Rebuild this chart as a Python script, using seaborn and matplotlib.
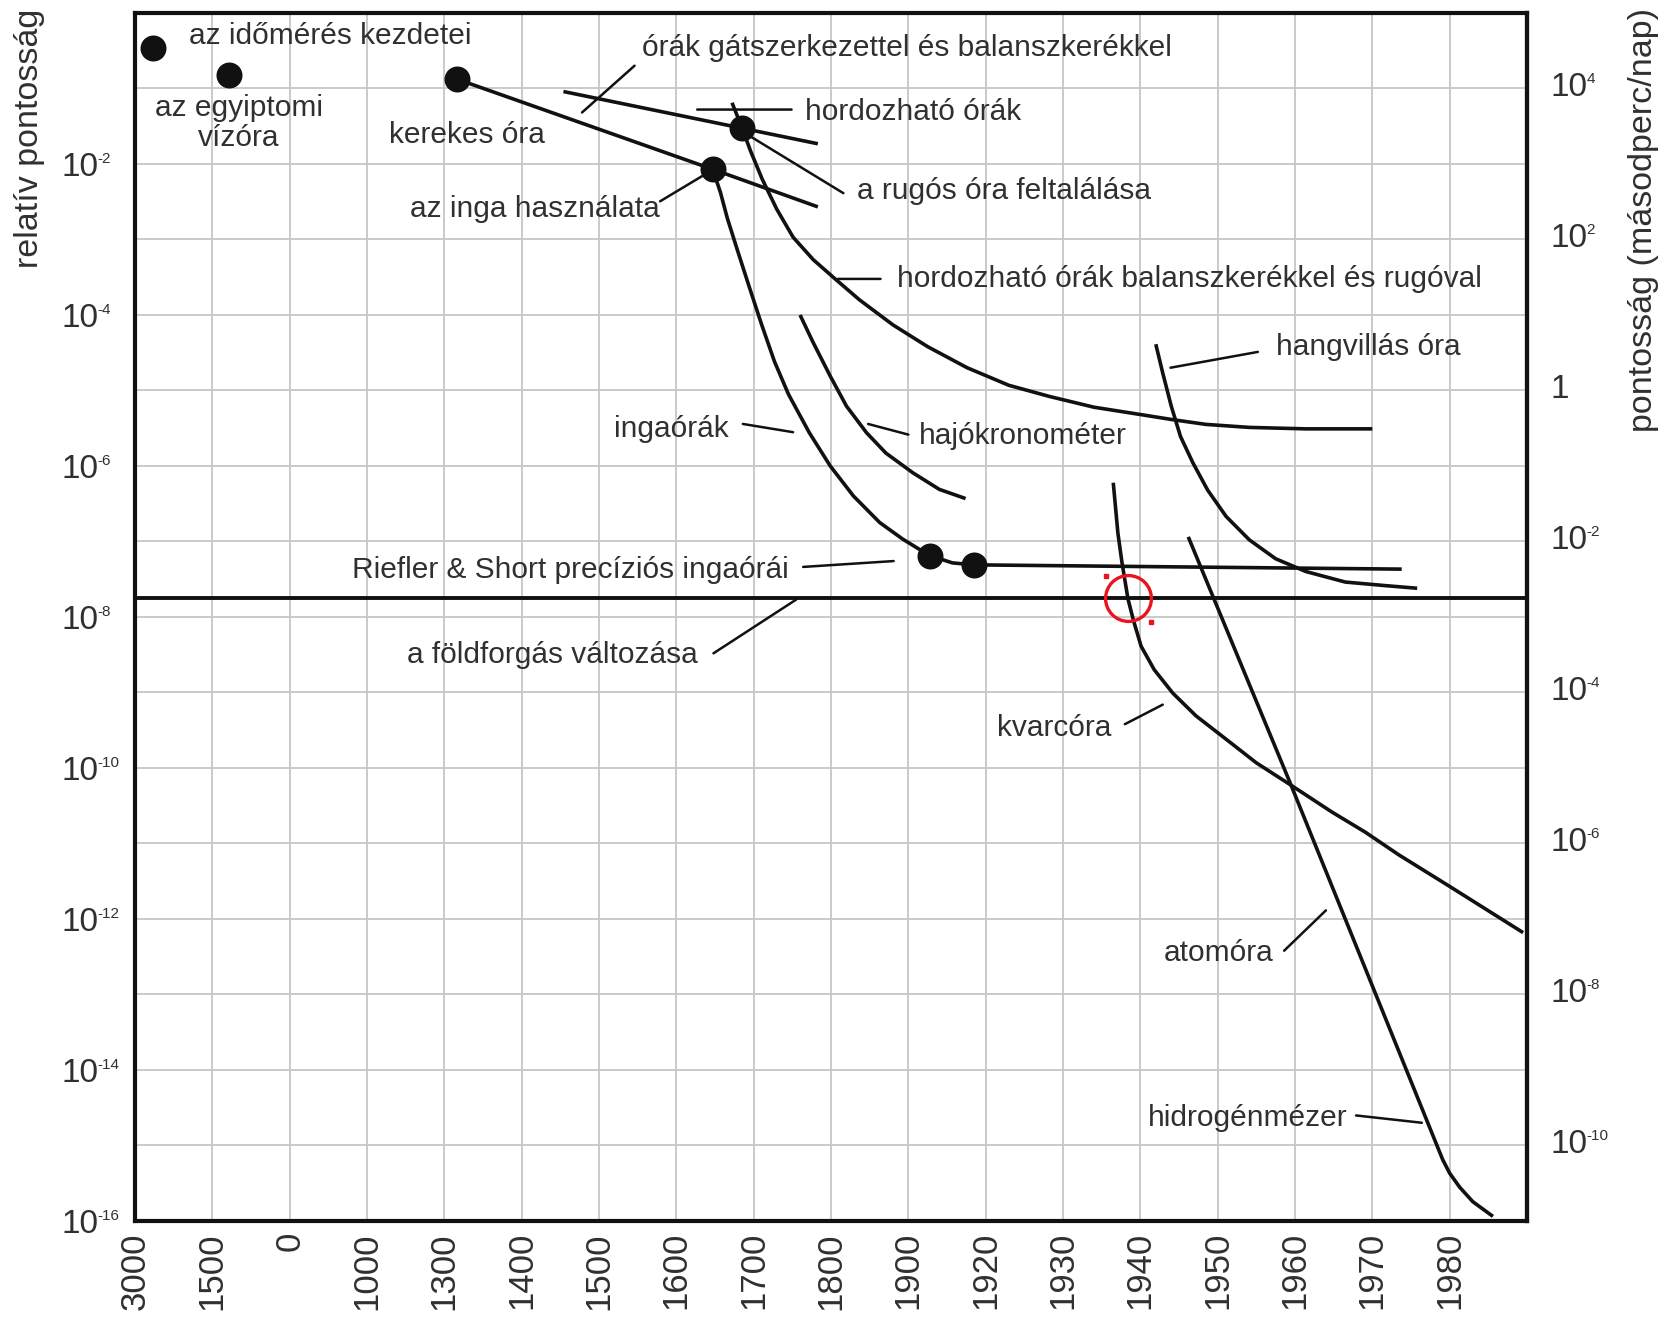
import numpy as np
import pandas as pd
import matplotlib
matplotlib.use("Agg")
import matplotlib.pyplot as plt
from matplotlib.transforms import blended_transform_factory, ScaledTranslation
import seaborn as sns

# x axis is not linear: equal spacing between these years
tick_years = [-3000, -1500, 0, 1000, 1300, 1400, 1500, 1600, 1700, 1800,
              1900, 1920, 1930, 1940, 1950, 1960, 1970, 1980, 1990]
tick_labels = ["3000", "1500", "0", "1000", "1300", "1400", "1500", "1600", "1700",
               "1800", "1900", "1920", "1930", "1940", "1950", "1960", "1970", "1980"]
left_exps = [-2, -4, -6, -8, -10, -12, -14, -16]
right_exps = [4, 2, 0, -2, -4, -6, -8, -10]

# milestones (dots)
dot_years = [-2655, -1185, 1317, 1647, 1685, 1905.6, 1917]
dot_values = [0.34, 0.15, 0.132, 8.5e-3, 0.030, 6.5e-8, 4.9e-8]

# straight lines
wheel_years = [1317, 1647, 1783]
wheel_values = [0.132, 8.5e-3, 2.7e-3]
escapement_years = [1454, 1783]
escapement_values = [0.091, 0.0185]

# curves
portable_years = [1672, 1685, 1696, 1711, 1730, 1751, 1777, 1807, 1837, 1880,
                  1905, 1915.2, 1923, 1928.3, 1934, 1940, 1944.2, 1948.5, 1954.1,
                  1961.4, 1970]
portable_values = [0.0646, 0.030, 0.0148, 6.3e-3, 2.5e-3, 1.07e-3, 5.4e-4, 2.9e-4,
                   1.58e-4, 7.4e-5, 3.8e-5, 2.0e-5, 1.17e-5, 8.3e-6, 6.0e-6, 4.8e-6,
                   4.1e-6, 3.55e-6, 3.24e-6, 3.1e-6, 3.1e-6]

pendulum_years = [1647, 1657, 1666, 1679, 1694, 1710, 1727, 1745, 1772, 1799,
                  1829, 1863, 1893, 1902.8, 1905.6, 1911.4, 1917, 1973.8]
pendulum_values = [8.5e-3, 4.2e-3, 1.9e-3, 7.2e-4, 2.4e-4, 7.6e-5, 2.4e-5, 8.9e-6,
                   2.75e-6, 1.0e-6, 4.0e-7, 1.78e-7, 1.07e-7, 7.9e-8, 6.5e-8, 5.2e-8,
                   4.9e-8, 4.3e-8]

chrono_years = [1760, 1777, 1799, 1820, 1846, 1871, 1901.2, 1908, 1914.8]
chrono_values = [1.0e-4, 4.3e-5, 1.55e-5, 6.2e-6, 2.75e-6, 1.48e-6, 8.1e-7, 4.9e-7,
                 3.7e-7]

fork_years = [1942.0, 1942.9, 1944.0, 1945.2, 1946.8, 1948.7, 1951.1, 1954.1,
              1957.5, 1961.4, 1966.5, 1971.7, 1975.8]
fork_values = [4.1e-5, 1.7e-5, 6.2e-6, 2.45e-6, 1.1e-6, 4.8e-7, 2.14e-7, 1.05e-7,
               5.9e-8, 4.0e-8, 2.9e-8, 2.6e-8, 2.4e-8]

quartz_years = [1936.5, 1937.1, 1937.6, 1938.4, 1939.1, 1940.1, 1941.8, 1944.2,
                1947.2, 1951.1, 1955.0, 1959.5, 1964.8, 1969.1, 1973.4, 1980.0, 1989.5]
quartz_values = [6.0e-7, 1.29e-7, 5.5e-8, 1.74e-8, 9.1e-9, 4.1e-9, 2.0e-9, 9.8e-10,
                 4.9e-10, 2.4e-10, 1.17e-10, 5.9e-11, 2.6e-11, 1.41e-11, 7.1e-12,
                 2.7e-12, 6.6e-13]

atomic_years = [1946.2, 1959.5, 1979.1, 1980.0, 1981.3, 1983.0, 1985.6]
atomic_values = [1.15e-7, 5.9e-11, 6.5e-16, 4.3e-16, 2.8e-16, 1.8e-16, 1.15e-16]

earth_rotation = 1.78e-8

sns.set_theme(style="white")
plt.rcParams["font.family"] = ["Liberation Sans", "DejaVu Sans"]

ink = "#111111"
txt = "#303030"

fig = plt.figure(figsize=(16.65, 13.19), dpi=100)
ax = fig.add_axes([0.0811, 0.0743, 0.8360, 0.9159])

pos = np.arange(len(tick_years))


def fwd(x):
    return np.interp(x, tick_years, pos)


def inv(p):
    return np.interp(p, pos, tick_years)


ax.set_xscale("function", functions=(fwd, inv))
ax.set_yscale("log")

curves = [(wheel_years, wheel_values), (escapement_years, escapement_values),
          (portable_years, portable_values), (pendulum_years, pendulum_values),
          (chrono_years, chrono_values), (fork_years, fork_values),
          (quartz_years, quartz_values), (atomic_years, atomic_values)]
for xs, ys in curves:
    sns.lineplot(x=xs, y=ys, ax=ax, color=ink, lw=2.6, sort=False, estimator=None,
                 solid_joinstyle="round", solid_capstyle="butt")

sns.scatterplot(x=dot_years, y=dot_values, ax=ax, color=ink, s=300,
                edgecolor=ink, zorder=5)

ax.axhline(earth_rotation, color=ink, lw=2.8)

ax.set_xlim(-3000, 1990)
ax.set_ylim(1e-16, 1)

ax.set_xticks(tick_years[:-1])
ax.set_xticklabels(tick_labels, rotation=90, fontsize=25, color=txt)
ax.set_yticks([10.0 ** -k for k in range(0, 17)])
ax.set_yticklabels([])
ax.yaxis.set_minor_locator(matplotlib.ticker.NullLocator())
ax.tick_params(axis="both", length=0)
ax.tick_params(axis="x", pad=8)
ax.grid(True, color="#c6c6c6", lw=1.3)
ax.set_axisbelow(True)
for sp in ax.spines.values():
    sp.set_visible(True)
    sp.set_color(ink)
    sp.set_linewidth(3)

sec = ax.secondary_yaxis("right", functions=(lambda v: v * 86400, lambda v: v / 86400))
sec.set_yticks([10.0 ** e for e in right_exps])
sec.set_yticklabels([])
sec.yaxis.set_minor_locator(matplotlib.ticker.NullLocator())
sec.tick_params(length=0)
sec.spines["right"].set_linewidth(3)
sec.spines["right"].set_color(ink)


# tick labels drawn as "10" plus a small raised exponent, like the original
def shift(px):
    return ScaledTranslation(0, px / 100, fig.dpi_scale_trans)


tl = blended_transform_factory(fig.transFigure, ax.transData)
for e in left_exps:
    v = 10.0 ** e
    ax.text(0.0372, v, "10", transform=tl + shift(-4), ha="left", va="center",
            fontsize=24, color=txt)
    ax.text(0.0585, v, str(e), transform=tl + shift(12), ha="left", va="top",
            fontsize=11, color=txt)
for e in right_exps:
    v = 10.0 ** e / 86400
    if e == 0:
        ax.text(0.9315, v, "1", transform=tl + shift(-4), ha="left", va="center",
                fontsize=24, color=txt)
        continue
    ax.text(0.9315, v, "10", transform=tl + shift(-4), ha="left", va="center",
            fontsize=24, color=txt)
    ax.text(0.9530, v, str(e), transform=tl + shift(12), ha="left", va="top",
            fontsize=11, color=txt)

fig.text(0.018, 0.993, "relatív pontosság", rotation=90, va="top", ha="center",
         fontsize=24.5, color=txt)
fig.text(0.987, 0.994, "pontosság (másodperc/nap)", rotation=90, va="top",
         ha="center", fontsize=24.5, color=txt)

fs = 21.5
labels = [
    ("az időmérés kezdetei", -1950, 0.5, "left"),
    ("az egyiptomi\nvízóra", -990, 0.035, "center"),
    ("kerekes óra", 1084, 0.024, "left"),
    ("órák gátszerkezettel és balanszkerékkel", 1556, 0.34, "left"),
    ("hordozható órák", 1767, 0.048, "left"),
    ("a rugós óra feltalálása", 1834, 4.4e-3, "left"),
    ("az inga használata", 1579, 2.5e-3, "right"),
    ("hordozható órák balanszkerékkel és rugóval", 1885, 2.95e-4, "left"),
    ("hangvillás óra", 1957.5, 3.8e-5, "left"),
    ("ingaórák", 1668, 3.1e-6, "right"),
    ("hajókronométer", 1902.8, 2.5e-6, "left"),
    ("Riefler & Short precíziós ingaórái", 1745, 4.2e-8, "right"),
    ("a földforgás változása", 1628, 3.1e-9, "right"),
    ("kvarcóra", 1936.3, 3.4e-10, "right"),
    ("atomóra", 1957.2, 3.5e-13, "right"),
    ("hidrogénmézer", 1966.8, 2.3e-15, "right"),
]
for s, x, y, ha in labels:
    ax.text(x, y, s, ha=ha, va="center", fontsize=fs, color=txt,
            multialignment="center", linespacing=1.08, zorder=6)

pointers = [
    ((1546, 0.20), (1478, 0.048)),
    ((1627, 0.0525), (1749, 0.0525)),
    ((1816, 4.1e-3), (1695, 0.0234)),
    ((1579, 3.2e-3), (1642, 7.8e-3)),
    ((1809, 3.0e-4), (1864, 3.0e-4)),
    ((1955.2, 3.24e-5), (1943.9, 2.0e-5)),
    ((1686, 3.6e-6), (1751, 2.8e-6)),
    ((1900, 2.6e-6), (1848, 3.6e-6)),
    ((1764, 4.6e-8), (1881, 5.5e-8)),
    ((1648, 3.3e-9), (1755, 1.7e-8)),
    ((1938.0, 3.8e-10), (1942.9, 6.9e-10)),
    ((1958.6, 3.8e-13), (1964, 1.3e-12)),
    ((1967.9, 2.5e-15), (1976.4, 2.0e-15)),
]
for a, b in pointers:
    ax.annotate("", xy=b, xytext=a,
                arrowprops=dict(arrowstyle="-", color=ink, lw=1.8, shrinkA=0, shrinkB=0))

# red highlight circle
ax.plot([1938.4], [1.78e-8], marker="o", ms=33, mfc="none", mec="#e8141e", mew=2.4,
        zorder=7)
ax.plot([1935.5, 1941.4], [3.5e-8, 8.7e-9], ls="none", marker="s", ms=2.5,
        color="#e8141e", zorder=7)

fig.savefig("out.png", dpi=100)
